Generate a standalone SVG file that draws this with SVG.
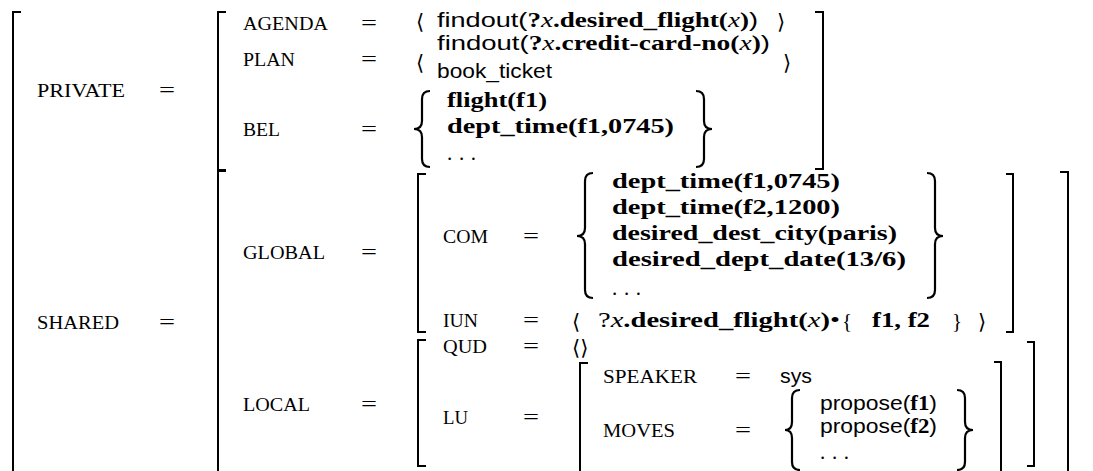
<svg xmlns="http://www.w3.org/2000/svg" width="1093" height="471" viewBox="0 0 1093 471">
<style>
.lb{font-family:"Liberation Serif",serif;font-size:18.5px;fill:#000}
.eq{font-family:"Liberation Serif",serif;font-size:22px;fill:#000}
.sf{font-family:"Liberation Sans",sans-serif}
.bf{font-family:"Liberation Serif",serif;font-weight:bold}
.it{font-family:"Liberation Serif",serif;font-style:italic}
.rm{font-family:"Liberation Serif",serif}
.tx{font-size:21px;fill:#000}
.ang{font-family:"DejaVu Sans",sans-serif;font-size:21px;fill:#000}
.br{fill:none;stroke:#000;stroke-width:2}
.bc{fill:none;stroke:#000;stroke-width:2.2}
</style>
<rect width="1093" height="471" fill="#fff"/>
<g id="brackets">
<path class="br" d="M21,12 H13 V471"/>
<path class="br" d="M226,12 H218 V170 H226"/>
<path class="br" d="M815,12 H823 V169 H815"/>
<path class="br" d="M226,171 H218 V471"/>
<path class="br" d="M1060,172 H1068 V471"/>
<path class="br" d="M426,174 H418 V332 H426"/>
<path class="br" d="M1006,174 H1013 V332 H1006"/>
<path class="br" d="M426,340 H418 V466 H426"/>
<path class="br" d="M1027,342 H1034 V466 H1027"/>
<path class="br" d="M588,363 H580 V471"/>
<path class="br" d="M994,362 H1001 V471"/>
</g>
<g id="private">
<text class="lb" x="37" y="97" textLength="88" lengthAdjust="spacingAndGlyphs">PRIVATE</text>
<text class="eq" x="159" y="97" textLength="16" lengthAdjust="spacingAndGlyphs">=</text>
<g id="agenda">
<text class="lb" x="243" y="30" textLength="85" lengthAdjust="spacingAndGlyphs">AGENDA</text>
<text class="eq" x="361" y="30" textLength="16" lengthAdjust="spacingAndGlyphs">=</text>
<text class="ang" x="416" y="29">⟨</text>
<text class="tx" x="437" y="27" textLength="321" lengthAdjust="spacingAndGlyphs"><tspan class="sf">findout(</tspan><tspan class="bf">?</tspan><tspan class="it">x</tspan><tspan class="bf">.desired_flight(</tspan><tspan class="it">x</tspan><tspan class="bf">)</tspan><tspan class="sf">)</tspan></text>
<text class="ang" x="777" y="29">⟩</text>
</g>
<g id="plan">
<text class="lb" x="243" y="66" textLength="52" lengthAdjust="spacingAndGlyphs">PLAN</text>
<text class="eq" x="361" y="66" textLength="16" lengthAdjust="spacingAndGlyphs">=</text>
<text class="ang" x="416" y="70">⟨</text>
<text class="tx" x="437" y="50" textLength="333" lengthAdjust="spacingAndGlyphs"><tspan class="sf">findout(</tspan><tspan class="bf">?</tspan><tspan class="it">x</tspan><tspan class="bf">.credit-card-no(</tspan><tspan class="it">x</tspan><tspan class="bf">)</tspan><tspan class="sf">)</tspan></text>
<text class="tx sf" x="437" y="78" textLength="115" lengthAdjust="spacingAndGlyphs">book_ticket</text>
<text class="ang" x="783" y="70">⟩</text>
</g>
<g id="bel">
<text class="lb" x="243" y="136" textLength="37" lengthAdjust="spacingAndGlyphs">BEL</text>
<text class="eq" x="361" y="136" textLength="16" lengthAdjust="spacingAndGlyphs">=</text>
<path class="bc" d="M430,91 Q422,91 422,99 V121 Q422,129 414,129 Q422,129 422,137 V159 Q422,167 430,167"/>
<text class="tx bf" x="447" y="107" textLength="100" lengthAdjust="spacingAndGlyphs">flight(f1)</text>
<text class="tx bf" x="447" y="133" textLength="227" lengthAdjust="spacingAndGlyphs">dept_time(f1,0745)</text>
<text class="tx rm" x="447" y="160" textLength="29" lengthAdjust="spacing">...</text>
<path class="bc" d="M696,91 Q704,91 704,99 V121 Q704,129 712,129 Q704,129 704,137 V159 Q704,167 696,167"/>
</g>
</g>
<g id="shared">
<text class="lb" x="37" y="329" textLength="82" lengthAdjust="spacingAndGlyphs">SHARED</text>
<text class="eq" x="159" y="329" textLength="16" lengthAdjust="spacingAndGlyphs">=</text>
<g id="global">
<text class="lb" x="243" y="259" textLength="82" lengthAdjust="spacingAndGlyphs">GLOBAL</text>
<text class="eq" x="361" y="259" textLength="16" lengthAdjust="spacingAndGlyphs">=</text>
<g id="com">
<text class="lb" x="443" y="243" textLength="45" lengthAdjust="spacingAndGlyphs">COM</text>
<text class="eq" x="523" y="243" textLength="16" lengthAdjust="spacingAndGlyphs">=</text>
<path class="bc" d="M593,173 Q585,173 585,181 V228 Q585,236 577,236 Q585,236 585,244 V290 Q585,298 593,298"/>
<text class="tx bf" x="612" y="188" textLength="228" lengthAdjust="spacingAndGlyphs">dept_time(f1,0745)</text>
<text class="tx bf" x="612" y="214" textLength="228" lengthAdjust="spacingAndGlyphs">dept_time(f2,1200)</text>
<text class="tx bf" x="612" y="240" textLength="285" lengthAdjust="spacingAndGlyphs">desired_dest_city(paris)</text>
<text class="tx bf" x="612" y="266" textLength="294" lengthAdjust="spacingAndGlyphs">desired_dept_date(13/6)</text>
<text class="tx rm" x="612" y="295" textLength="29" lengthAdjust="spacing">...</text>
<path class="bc" d="M927,173 Q935,173 935,181 V228 Q935,236 943,236 Q935,236 935,244 V290 Q935,298 927,298"/>
</g>
<g id="iun">
<text class="lb" x="443" y="327" textLength="35" lengthAdjust="spacingAndGlyphs">IUN</text>
<text class="eq" x="523" y="327" textLength="16" lengthAdjust="spacingAndGlyphs">=</text>
<text class="ang" x="572" y="329">⟨</text>
<text class="tx" x="598" y="327" textLength="242" lengthAdjust="spacingAndGlyphs"><tspan class="rm">?</tspan><tspan class="it">x</tspan><tspan class="bf">.desired_flight(</tspan><tspan class="it">x</tspan><tspan class="bf">)</tspan><tspan class="rm">•</tspan></text>
<text class="tx rm" x="842" y="328">{</text>
<text class="tx bf" x="872" y="327" textLength="58" lengthAdjust="spacingAndGlyphs">f1, f2</text>
<text class="tx rm" x="952" y="328">}</text>
<text class="ang" x="978" y="329">⟩</text>
</g>
</g>
<g id="local">
<text class="lb" x="243" y="411" textLength="67" lengthAdjust="spacingAndGlyphs">LOCAL</text>
<text class="eq" x="361" y="411" textLength="16" lengthAdjust="spacingAndGlyphs">=</text>
<g id="qud">
<text class="lb" x="443" y="353" textLength="44" lengthAdjust="spacingAndGlyphs">QUD</text>
<text class="eq" x="523" y="353" textLength="16" lengthAdjust="spacingAndGlyphs">=</text>
<text class="ang" x="572" y="355">⟨⟩</text>
</g>
<g id="lu">
<text class="lb" x="443" y="424" textLength="25" lengthAdjust="spacingAndGlyphs">LU</text>
<text class="eq" x="523" y="424" textLength="16" lengthAdjust="spacingAndGlyphs">=</text>
<g id="speaker">
<text class="lb" x="603" y="383" textLength="94" lengthAdjust="spacingAndGlyphs">SPEAKER</text>
<text class="eq" x="735" y="383" textLength="16" lengthAdjust="spacingAndGlyphs">=</text>
<text class="tx sf" x="780" y="383" textLength="32" lengthAdjust="spacingAndGlyphs">sys</text>
</g>
<g id="moves">
<text class="lb" x="603" y="437" textLength="72" lengthAdjust="spacingAndGlyphs">MOVES</text>
<text class="eq" x="735" y="437" textLength="16" lengthAdjust="spacingAndGlyphs">=</text>
<path class="bc" d="M800,390 Q792,390 792,398 V422 Q792,430 785,430 Q792,430 792,438 V462 Q792,470 800,470"/>
<text class="tx" x="820" y="410" textLength="117" lengthAdjust="spacingAndGlyphs"><tspan class="sf">propose(</tspan><tspan class="bf">f1</tspan><tspan class="sf">)</tspan></text>
<text class="tx" x="820" y="433" textLength="117" lengthAdjust="spacingAndGlyphs"><tspan class="sf">propose(</tspan><tspan class="bf">f2</tspan><tspan class="sf">)</tspan></text>
<text class="tx rm" x="820" y="459" textLength="29" lengthAdjust="spacing">...</text>
<path class="bc" d="M957,390 Q965,390 965,398 V422 Q965,430 973,430 Q965,430 965,438 V462 Q965,470 957,470"/>
</g>
</g>
</g>
</g>
</svg>
